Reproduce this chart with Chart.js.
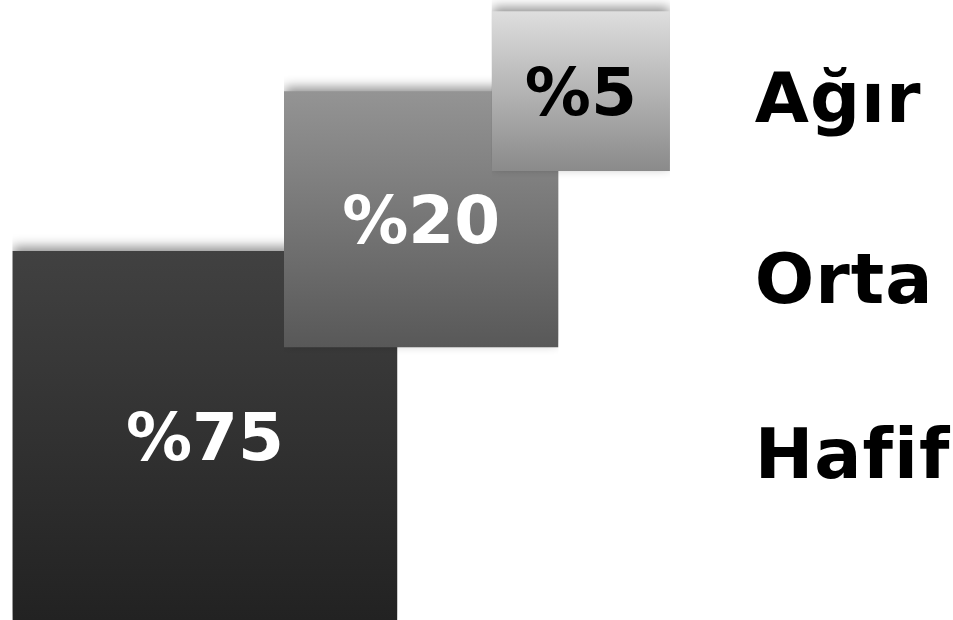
<!DOCTYPE html>
<html lang="tr">
<head>
<meta charset="utf-8">
<title>Ağır / Orta / Hafif</title>
<script src="https://cdn.jsdelivr.net/npm/chart.js@4.4.1/dist/chart.umd.min.js"></script>
<style>
  html, body { margin: 0; padding: 0; background: #fff; }
  #wrap { width: 953px; height: 620px; }
</style>
</head>
<body>
<div id="wrap"><canvas id="chart" width="953" height="620"></canvas></div>
<script>
// veriler
const categories = ['Hafif', 'Orta', 'Ağır'];
const shares = [75, 20, 5];
const shareLabels = shares.map(v => '%' + v);

// kutuların yerleşimi (eksen birimi 0–100)
const boxX = [[1.3, 41.7], [29.8, 58.6], [51.6, 70.3]];
const boxY = [[0, 59.5], [44.0, 85.3], [72.4, 98.2]];
const labelX = 79.2;
const labelY = [27.1, 55.2, 84.5];

// renkler
const fillTop = ['#414141', '#949494', '#dedede'];
const fillBottom = ['#222222', '#585858', '#8a8a8a'];
const textColor = ['#ffffff', '#ffffff', '#000000'];
const drawOrder = [3, 2, 1]; // Hafif en altta, Ağır en üstte

function boxGradient(chart, i) {
  const { ctx, chartArea, scales } = chart;
  if (!chartArea) return fillTop[i];
  const top = scales.y.getPixelForValue(boxY[i][1]);
  const bottom = scales.y.getPixelForValue(boxY[i][0]);
  const g = ctx.createLinearGradient(0, top, 0, bottom);
  g.addColorStop(0, fillTop[i]);
  g.addColorStop(1, fillBottom[i]);
  return g;
}

// her kutu: üst kenar çizgisi + alt değere kadar dolgu
const datasets = categories.map((name, i) => ({
  label: name,
  data: [
    { x: boxX[i][0], y: boxY[i][1] },
    { x: boxX[i][1], y: boxY[i][1] },
  ],
  fill: { value: boxY[i][0] },
  backgroundColor: ctx => boxGradient(ctx.chart, i),
  borderColor: 'rgba(0,0,0,0)',
  borderWidth: 0,
  pointRadius: 0,
  tension: 0,
  order: drawOrder[i],
}));

// gölge: dolgular çizilmeden önce aç, sonra kapat
const shadowPlugin = {
  id: 'boxShadow',
  beforeDraw(chart) {
    const c = chart.ctx;
    c.shadowColor = 'rgba(0,0,0,0.45)';
    c.shadowBlur = 11;
    c.shadowOffsetX = 0;
    c.shadowOffsetY = -4;
  },
  afterDatasetsDraw(chart) {
    const c = chart.ctx;
    c.shadowColor = 'rgba(0,0,0,0)';
    c.shadowBlur = 0;
    c.shadowOffsetY = 0;
  },
};

// yüzde ve kategori yazıları
const labelPlugin = {
  id: 'boxLabels',
  afterDatasetsDraw(chart) {
    const { ctx, scales } = chart;
    const x = scales.x, y = scales.y;
    ctx.save();
    ctx.textBaseline = 'alphabetic';

    ctx.font = "bold 66px 'DejaVu Sans'";
    ctx.textAlign = 'center';
    categories.forEach((_, i) => {
      const cx = x.getPixelForValue((boxX[i][0] + boxX[i][1]) / 2);
      const cy = y.getPixelForValue((boxY[i][0] + boxY[i][1]) / 2);
      ctx.fillStyle = textColor[i];
      ctx.fillText(shareLabels[i], cx, cy + 66 * 0.365);
    });

    ctx.font = "bold 70px 'DejaVu Sans'";
    ctx.textAlign = 'left';
    ctx.letterSpacing = '1px'; // "fi" bitişmesin
    ctx.fillStyle = '#000000';
    categories.forEach((name, i) => {
      ctx.fillText(name, x.getPixelForValue(labelX), y.getPixelForValue(labelY[i]) + 70 * 0.365);
    });
    ctx.restore();
  },
};

new Chart(document.getElementById('chart'), {
  type: 'line',
  data: { datasets },
  options: {
    responsive: false,
    animation: false,
    events: [],
    layout: { padding: 0 },
    scales: {
      x: { type: 'linear', min: 0, max: 100, display: false },
      y: { type: 'linear', min: 0, max: 100, display: false },
    },
    plugins: {
      legend: { display: false },
      tooltip: { enabled: false },
      title: { display: false },
    },
  },
  plugins: [shadowPlugin, labelPlugin],
});
</script>
</body>
</html>
